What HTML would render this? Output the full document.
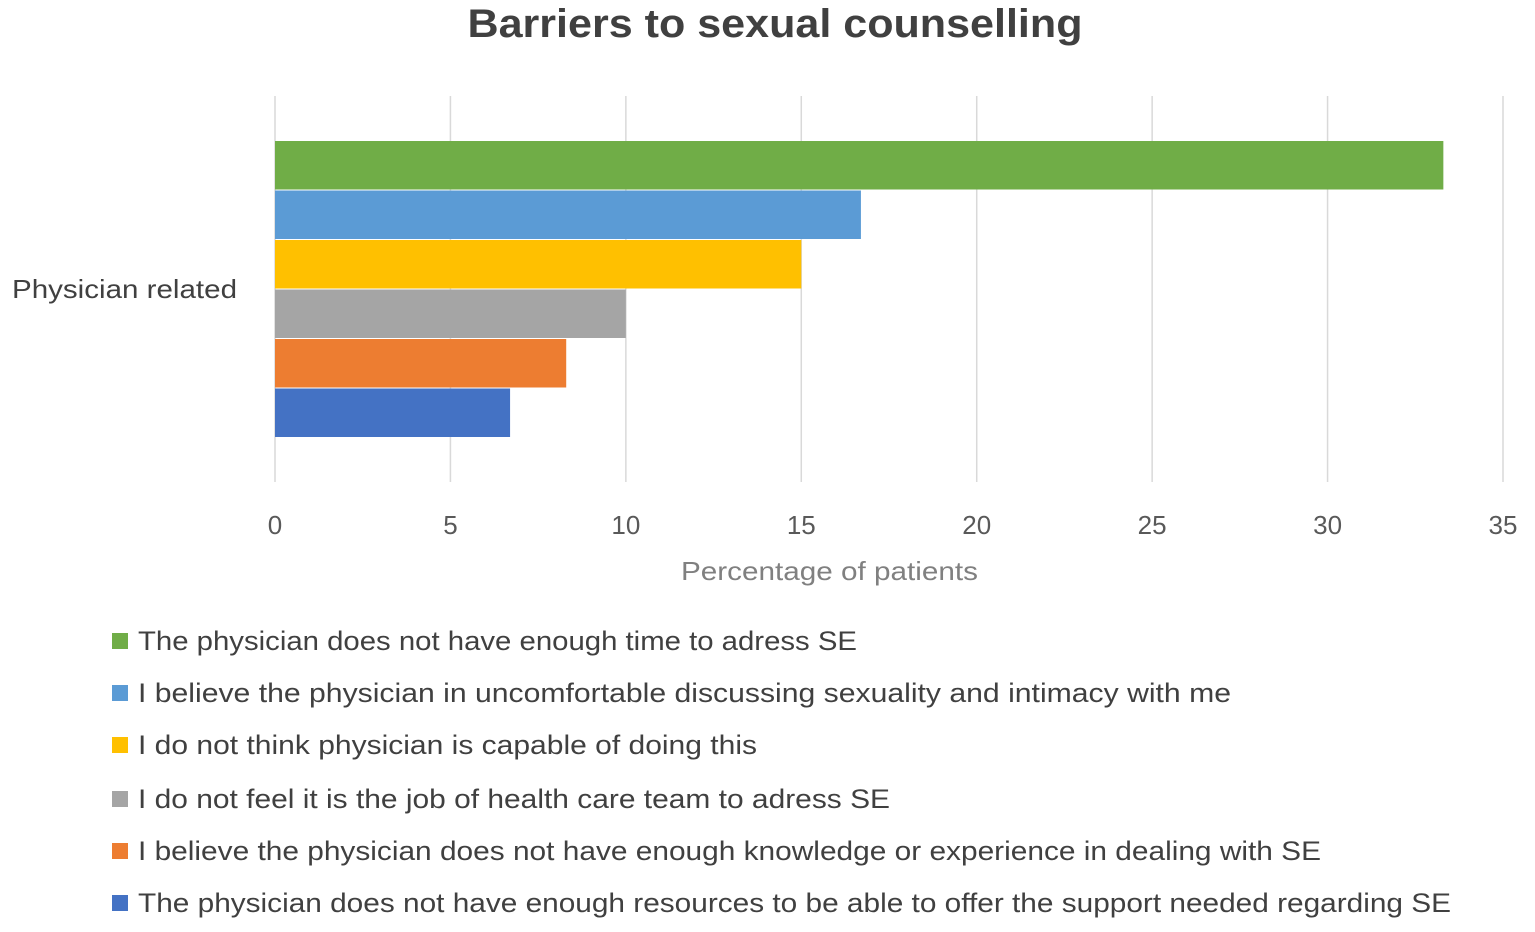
<!DOCTYPE html>
<html><head><meta charset="utf-8"><style>
body{margin:0;background:#fff;width:1535px;height:927px;overflow:hidden;font-family:"Liberation Sans",sans-serif}
</style></head><body>
<svg id="chart" width="1535" height="927" xmlns="http://www.w3.org/2000/svg"></svg>
<script>
const categories=["Physician related"];
const seriesNames=["The physician does not have enough time to adress SE","I believe the physician in uncomfortable discussing sexuality and intimacy with me","I do not think physician is capable of doing this","I do not feel it is the job of health care team to adress SE","I believe the physician does not have enough knowledge or experience in dealing with SE","The physician does not have enough resources to be able to offer the support needed regarding SE"];
const seriesValues=[33.3,16.7,15.0,10.0,8.3,6.7];
const seriesColors=["#70ad47","#5b9bd5","#ffc000","#a5a5a5","#ed7d31","#4472c4"];
const ticks=[0,5,10,15,20,25,30,35];
const legendWidths=[719,1093,619,752,1183,1313];
const NS="http://www.w3.org/2000/svg",svg=document.getElementById('chart');
function el(t,a,txt){const e=document.createElementNS(NS,t);for(const k in a)e.setAttribute(k,a[k]);if(txt!=null)e.textContent=txt;svg.appendChild(e);return e;}
const x0=275,x1=1503,yTop=96,yBot=482,xMax=35;
const xs=v=>x0+(x1-x0)*v/xMax;
let t=el('text',{x:775,y:37,'text-anchor':'middle','font-size':40,'font-weight':'bold',fill:'#404040',textLength:615,lengthAdjust:'spacingAndGlyphs'},'Barriers to sexual counselling');


ticks.forEach(v=>{
 let g=el('line',{x1:xs(v),x2:xs(v),y1:yTop,y2:yBot,stroke:'#d9d9d9','stroke-width':1.5});
 
 
 let l=el('text',{x:xs(v),y:534,'text-anchor':'middle','font-size':26,fill:'#595959'},String(v));
 
 
});
const groupTop=141,barH=49.5;
seriesValues.forEach((v,i)=>{
 let r=el('rect',{x:x0,y:groupTop+i*barH,width:xs(v)-x0,height:barH-1,fill:seriesColors[i]});
 
 
});
let c=el('text',{x:12,y:298,'font-size':26,fill:'#404040',textLength:225,lengthAdjust:'spacingAndGlyphs'},categories[0]);


let at=el('text',{x:681,y:580,'font-size':26,fill:'#808080',textLength:297,lengthAdjust:'spacingAndGlyphs'},'Percentage of patients');


const legY=[641,693,745,799,851,903];
seriesNames.forEach((n,i)=>{
 let s=el('rect',{x:112,y:legY[i]-8,width:16,height:16,fill:seriesColors[i]});
 
 
 let tx=el('text',{x:138,y:legY[i]+9,'font-size':27,fill:'#404040',textLength:legendWidths[i],lengthAdjust:'spacingAndGlyphs'},n);
 
 
});
</script>
</body></html>
